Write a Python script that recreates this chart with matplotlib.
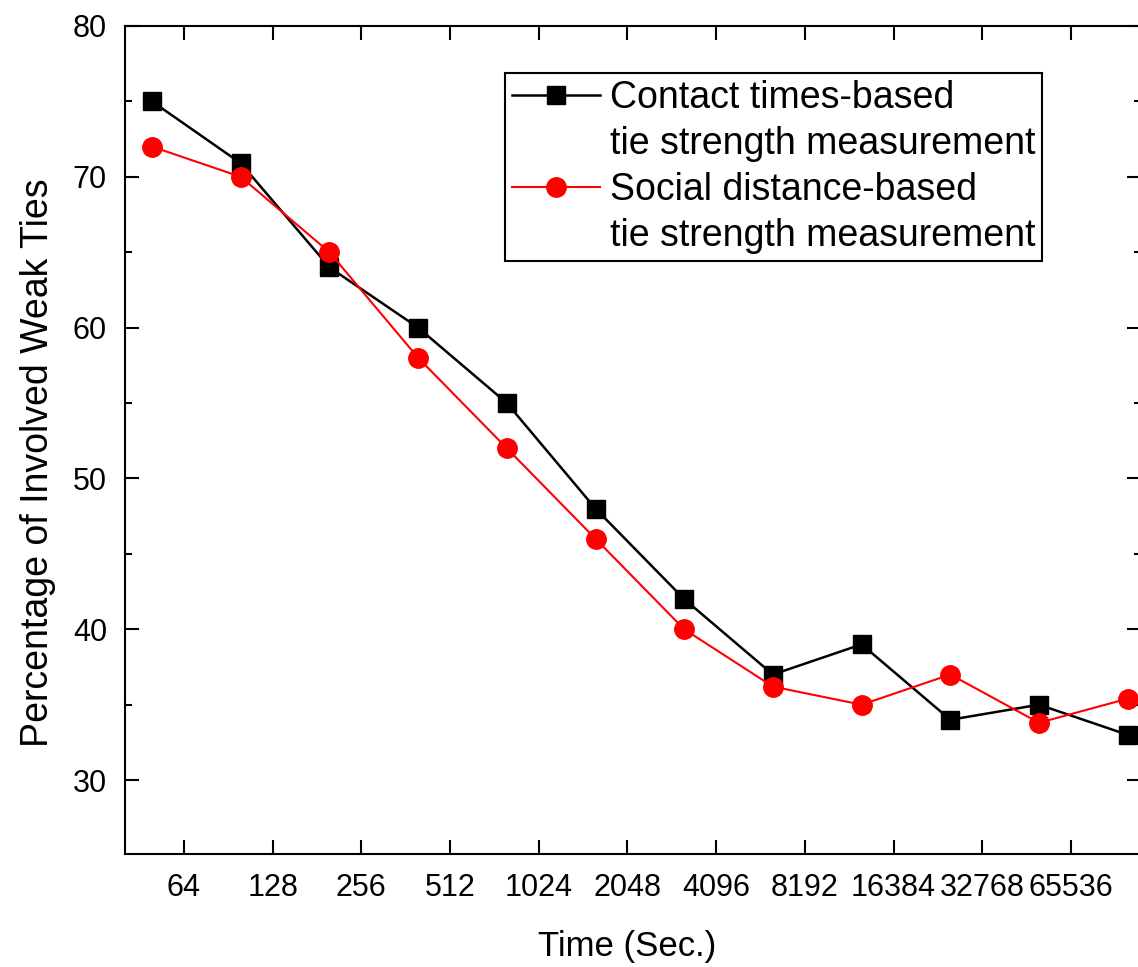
import numpy as np
import matplotlib.pyplot as plt
from matplotlib.lines import Line2D

# values
time_labels = ["64", "128", "256", "512", "1024", "2048", "4096", "8192",
               "16384", "32768", "65536"]
contact_times = [75, 70.9, 64, 60, 55, 48, 42, 37, 39, 34, 35, 33]
social_distance = [72, 70, 65, 58, 52, 46, 40, 36.2, 35, 37, 33.8, 35.4]

plt.rcParams['font.family'] = ['Liberation Sans', 'DejaVu Sans']

W, H = 1138, 967
fig = plt.figure(figsize=(W / 100, H / 100), dpi=100)
ax = fig.add_axes([125 / W, 1 - 854 / H, (1141 - 125) / W, (854 - 26) / H])

x = np.arange(len(contact_times))
l1, = ax.plot(x, contact_times, color='black', lw=1.8, marker='s', ms=13,
              mfc='black', mec='black')
l2, = ax.plot(x, social_distance, color='red', lw=1.5, marker='o', ms=14,
              mfc='red', mec='red')

ax.set_xlim(-0.305, 11.15)
ax.set_ylim(25.1, 80)
ax.set_xticks(np.arange(len(time_labels)) + 0.36)
ax.set_xticklabels(time_labels)
ax.set_yticks([30, 40, 50, 60, 70, 80])
ax.set_yticks([35, 45, 55, 65, 75], minor=True)

ax.tick_params(which='both', direction='in', top=True, right=True, width=1.5,
               labelsize=22, colors='black')
ax.tick_params(which='major', length=10)
ax.tick_params(which='minor', length=5)
ax.tick_params(axis='x', pad=14)
ax.tick_params(axis='y', pad=13)
for s in ax.spines.values():
    s.set_linewidth(1.5)

ax.set_xlabel("Time (Sec.)", fontsize=25, labelpad=19)
ax.xaxis.label.set_x(0.494)
ax.set_ylabel("Percentage of Involved Weak Ties", fontsize=27, labelpad=12)
ax.yaxis.label.set_y(0.473)

blank = Line2D([], [], linestyle='none')
leg = fig.legend([l1, blank, l2, blank],
                 ["Contact times-based", "tie strength measurement",
                  "Social distance-based", "tie strength measurement"],
                 loc='upper left', bbox_to_anchor=(505 / W, 1 - 73 / H),
                 bbox_transform=fig.transFigure, borderaxespad=0,
                 fontsize=27, frameon=True, fancybox=False, framealpha=1,
                 edgecolor='black', handlelength=2.35, handletextpad=0.27,
                 labelspacing=0.27, borderpad=0.18)
leg.get_frame().set_linewidth(1.5)

fig.savefig("out.png", dpi=100)
